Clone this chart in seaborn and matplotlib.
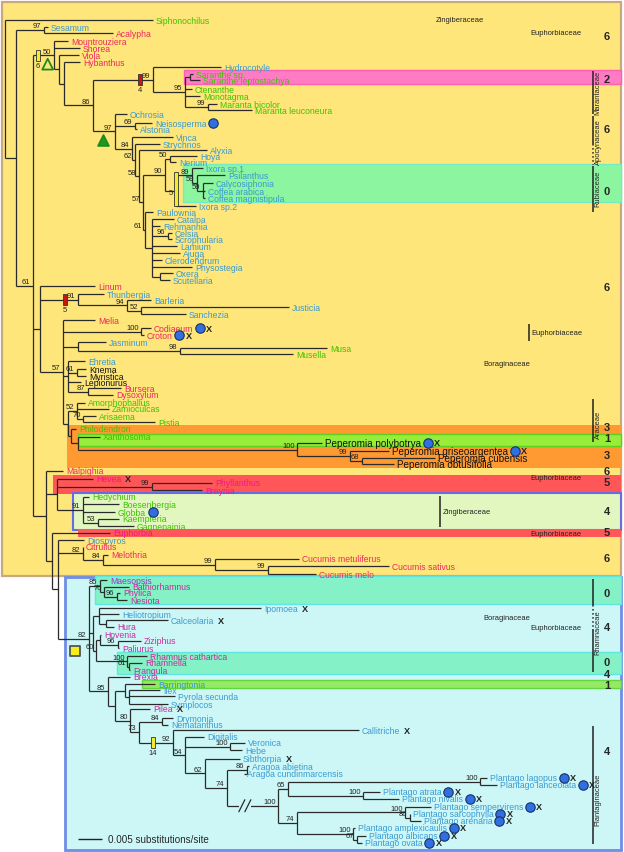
import seaborn as sns
import pandas as pd
import matplotlib.pyplot as plt
from matplotlib.patches import Rectangle

OUTPUT_FILE_NAME = "out.png"

# colours of the taxon names
GRN = "#3cc300"
BLU = "#3a9ad2"
RED = "#ec2862"
MAG = "#c92a9c"
PUR = "#9b34cc"
PNK = "#f01884"
BLK = "#111111"

# ---------------- tips (leaf name, parent node, branch end, row) ----------------
tip_names = [
    "Siphonochilus", "Sesamum", "Acalypha", "Mountrouziera", "Shorea", "Viola", "Hybanthus",
    "Hydrocotyle", "Saranthe sp.", "Saranthe leptostachya", "Ctenanthe", "Monotagma", "Maranta bicolor", "Maranta leuconeura",
    "Ochrosia", "Neisosperma", "Alstonia", "Vinca", "Strychnos", "Alyxia", "Hoya", "Nerium",
    "Ixora sp.1", "Psilanthus", "Calycosiphonia", "Coffea arabica", "Coffea magnistipula", "Ixora sp.2",
    "Paulownia", "Catalpa", "Rehmannia", "Celsia", "Scrophularia", "Lamium", "Ajuga", "Clerodendrum", "Physostegia", "Oxera", "Scutellaria",
    "Linum", "Thunbergia", "Barleria", "Justicia", "Sanchezia", "Melia", "Codiaeum", "Croton",
    "Jasminum", "Musa", "Musella", "Ehretia", "Knema", "Myristica", "Lepionurus", "Bursera", "Dysoxylum",
    "Amorphophallus", "Zamioculcas", "Arisaema", "Pistia", "Philodendron", "Xanthosoma",
    "Peperomia polybotrya", "Peperomia griseoargentea", "Peperomia cubensis", "Peperomia obtusifolia",
    "Malpighia", "Hevea", "Phyllanthus", "Breynia", "Hedychium", "Boesenbergia", "Globba", "Kaempferia", "Gagnepainia", "Euphorbia",
    "Diospyros", "Citrullus", "Melothria", "Cucumis metuliferus", "Cucumis sativus", "Cucumis melo",
    "Maesopsis", "Bathiorhamnus", "Phylica", "Nesiota", "Ipomoea", "Heliotropium", "Calceolaria", "Hura",
    "Hovenia", "Ziziphus", "Paliurus", "Rhamnus cathartica", "Rhamnella", "Frangula", "Brexia",
    "Barringtonia", "Ilex", "Pyrola secunda", "Symplocos", "Pilea", "Drymonia", "Nematanthus", "Callitriche",
    "Digitalis", "Veronica", "Hebe", "Sibthorpia", "Aragoa abietina", "Aragoa cundinmarcensis",
    "Plantago lagopus", "Plantago lanceolata", "Plantago atrata", "Plantago nivalis", "Plantago sempervirens",
    "Plantago sarcophylla", "Plantago arenaria", "Plantago amplexicaulis", "Plantago albicans", "Plantago ovata",
]
tip_parent = [
    "n0", "nSA", "nSA", "n3", "n3", "n4", "n5",
    "n7", "n10", "n10", "n9", "n9", "n11", "n11",
    "n8", "n12", "n12", "n13", "n14", "n15", "n18", "n18",
    "n20", "n21", "n21b", "n21b", "n21b", "n19",
    "n22", "n23", "n23", "n24", "n24", "n23", "n23", "n23", "n23", "n25", "n25",
    "nL1", "nL2", "nL4", "nL5", "nL5", "nL3", "nC", "nC",
    "nJ", "nMu", "nMu", "nE", "n61", "n61", "nE", "n87", "n87",
    "nA1", "nA1", "nA3", "nA3", "nA2", "nA4",
    "nP1", "nP3", "nP4", "nP4",
    "nM", "nM2", "nPh", "nPh", "nZ", "nZ", "nZ", "nZ3", "nZ3", "nE1",
    "nE2", "nCu", "nCu2", "nCu3", "nCu4", "nCu4",
    "nR1", "nR2", "nR3", "nR3", "nI1", "nI1", "nI2", "nI2",
    "nRh1", "nRh2", "nRh2", "nRh3", "nRh4", "nRh4", "nB",
    "nB3", "nB4", "nB4", "nB4", "nB5", "nDN", "nDN", "nPl",
    "nPl2", "nVH", "nVH", "nPl3", "nAr", "nAr",
    "nLa", "nLa", "nAt", "nAt", "nSe",
    "nSa", "nSa", "nAm", "nAl", "nAl",
]
tip_x = [
    153, 48, 113, 68, 80, 79, 80,
    221, 193, 200, 192, 200, 217, 252,
    127, 152, 137, 173, 160, 207, 197, 176,
    203, 225, 213, 205, 205, 196,
    153, 174, 160, 172, 172, 177, 180, 162, 192, 173, 170,
    95, 104, 151, 289, 186, 95, 151, 144,
    106, 327, 293, 85, 86, 86, 81, 121, 113,
    85, 109, 96, 155, 76, 100,
    322, 389, 435, 394,
    63, 93, 212, 202, 89, 119, 115, 119, 134, 110,
    84, 83, 108, 299, 389, 316,
    107, 129, 120, 127, 261, 119, 168, 114,
    101, 141, 119, 147, 142, 130, 130,
    155, 160, 175, 168, 150, 173, 168, 359,
    204, 245, 242, 240, 249, 244,
    487, 497, 380, 399, 431,
    410, 421, 355, 366, 362,
]
tip_y = [
    21, 28, 34, 42, 49, 56, 63,
    68, 75, 81, 90, 97, 105, 111,
    115, 124, 130, 138, 145, 151, 157, 163,
    169, 176, 184, 192, 199, 207,
    213, 220, 227, 234, 240, 247, 254, 261, 268, 274, 281,
    287, 295, 301, 308, 315, 321, 329, 336,
    343, 349, 355, 362, 370, 377, 383, 389, 396,
    404, 410, 417, 423, 430, 438,
    444, 452, 459, 465,
    472, 480, 484, 491, 498, 505, 513, 520, 527, 534,
    541, 548, 556, 560, 567, 575,
    581, 588, 594, 601, 609, 615, 621, 628,
    636, 642, 649, 657, 664, 671, 678,
    685, 691, 697, 705, 710, 719, 726, 731,
    738, 744, 751, 760, 767, 775,
    779, 786, 793, 800, 808,
    815, 822, 829, 837, 844,
]
tip_color = (
    [GRN, BLU, RED, RED, RED, RED, RED]
    + [BLU, GRN, GRN, GRN, GRN, GRN, GRN]
    + [BLU] * 8 + [BLU] * 6 + [BLU] * 11
    + [RED, BLU, BLU, BLU, BLU, RED, RED, RED]
    + [BLU, GRN, GRN, BLU, BLK, BLK, BLK, RED, RED]
    + [GRN] * 6 + [BLK] * 4
    + [RED, PNK, PNK, PNK, GRN, GRN, GRN, GRN, GRN, PNK]
    + [BLU, RED, RED, RED, RED, RED]
    + [PUR, MAG, MAG, MAG, BLU, BLU, BLU, MAG]
    + [MAG] * 7
    + [BLU, BLU, BLU, BLU, MAG, BLU, BLU, BLU]
    + [BLU] * 6 + [BLU] * 10
)
big_tips = ["Peperomia polybotrya", "Peperomia griseoargentea", "Peperomia cubensis", "Peperomia obtusifolia"]
dot_tips = ["Neisosperma", "Codiaeum", "Croton", "Peperomia polybotrya", "Peperomia griseoargentea", "Globba",
            "Plantago lagopus", "Plantago lanceolata", "Plantago atrata", "Plantago nivalis", "Plantago sempervirens",
            "Plantago sarcophylla", "Plantago arenaria", "Plantago amplexicaulis", "Plantago albicans", "Plantago ovata"]
cross_tips = ["Codiaeum", "Croton", "Peperomia polybotrya", "Peperomia griseoargentea", "Hevea", "Ipomoea",
              "Calceolaria", "Pilea", "Callitriche", "Sibthorpia",
              "Plantago lagopus", "Plantago lanceolata", "Plantago atrata", "Plantago nivalis", "Plantago sempervirens",
              "Plantago sarcophylla", "Plantago arenaria", "Plantago amplexicaulis", "Plantago albicans", "Plantago ovata"]

# ---------------- internal nodes (id, parent, depth, bootstrap) ----------------
node_ids = ["n0", "n1", "nSA", "n2", "n3", "n4", "n5", "n6", "n7", "n9", "n10", "n11",
            "n8", "n12", "n13", "n14", "n15", "n16", "n17", "n18", "n19", "n20", "n21", "n21b",
            "n22", "n23", "n24", "n25",
            "nL1", "nL2", "nL4", "nL5", "nL3", "nC", "nJ", "nMu", "nE", "n61", "n87",
            "nA", "nA1", "nA3", "nA2", "nA4", "nP1", "nP3", "nP4",
            "nM", "nM2", "nPh", "nZ", "nZ3", "nE1", "nE2", "nCu", "nCu2", "nCu3", "nCu4",
            "nLow", "nR1", "nR2", "nR3", "nI", "nI1", "nI2", "nRh", "nRh1", "nRh2", "nRh3", "nRh4",
            "nB", "nB2", "nB3", "nB4", "nB5", "nB6", "nDN", "nPl", "nPl2", "nVH", "nPl3", "nPl4",
            "nAr", "nPg", "nPg1", "nLa", "nAt", "nPg2", "nSe", "nSa", "nAm", "nAl"]
node_parent = [None, "n0", "n1", "n1", "n2", "n3", "n4", "n5", "n6", "n7", "n9", "n9",
               "n6", "n8", "n8", "n13", "n14", "n15", "n16", "n17", "n17", "n19", "n20", "n21",
               "n16", "n22", "n23", "n23",
               "n2", "nL1", "nL2", "nL4", "nL1", "nL3", "nL3", "nJ", "nL3", "nE", "nE",
               "nL3", "nA", "nA1", "nA", "nA2", "nA4", "nP1", "nP3",
               "n2", "nM", "nM2", "nM2", "nZ", "nM", "nE1", "nE2", "nCu", "nCu2", "nCu3",
               "nE2", "nLow", "nR1", "nR2", "nLow", "nI", "nI1", "nI", "nRh", "nRh1", "nRh", "nRh3",
               "nLow", "nB", "nB2", "nB3", "nB2", "nB5", "nB6", "nB6", "nPl", "nPl2", "nPl2", "nPl3",
               "nPl4", "nPl4", "nPg", "nPg1", "nPg1", "nPg", "nPg2", "nSe", "nPg2", "nAm"]
node_x = [5, 16, 44, 33, 54, 59, 64, 93, 153, 185, 190, 208,
          115, 135, 132, 135, 139, 143, 165, 170, 176, 192, 197, 203,
          145, 152, 168, 160,
          40, 78, 127, 141, 63, 141, 78, 180, 68, 77, 88,
          68, 77, 83, 71, 78, 297, 350, 362,
          46, 57, 152, 83, 98, 52, 58, 83, 103, 215, 268,
          89, 100, 104, 117, 93, 99, 106, 96, 100, 118, 127, 129,
          108, 115, 125, 129, 130, 139, 162, 173, 185, 230, 205, 227,
          247, 278, 288, 480, 363, 297, 405, 410, 353, 357]
node_support = [None, None, 97, 61, 50, None, None, 86, 99, 95, None, 99,
                97, 69, 84, 62, 58, 57, 90, 50, None, 89, 59, 59,
                61, None, 96, None,
                None, 91, 94, 52, 57, 100, None, 98, None, 61, 87,
                None, 52, 70, None, None, 100, 99, 68,
                None, None, 99, 91, 53, None, None, 82, 84, 99, 99,
                82, 85, 70, 96, None, None, None, 60, None, 96, 100, 61,
                85, None, None, None, 80, 73, 84, 92, 54, 100, 62, 74,
                86, 100, 65, 100, 100, 74, 100, 86, 100, 67]

# character-state counts written down the right margin
count_text = ["6", "2", "6", "0", "6", "3", "1", "3", "6", "5", "4", "5", "6", "0", "4", "0", "4", "1", "4"]
count_row = [37, 80, 130, 192, 288, 428, 439, 456, 472, 483, 512, 533, 559, 594, 628, 663, 675, 686, 752]

# coloured bands behind groups of tips
band_first = ["Saranthe sp.", "Ixora sp.1", "Philodendron", "Xanthosoma", "Hevea", "Hedychium", "Euphorbia",
              "Maesopsis", "Rhamnus cathartica", "Barringtonia"]
band_last = ["Saranthe leptostachya", "Coffea magnistipula", "Peperomia obtusifolia", "Peperomia polybotrya",
             "Breynia", "Gagnepainia", "Euphorbia", "Nesiota", "Frangula", "Barringtonia"]

# family names
fam_names = ["Zingiberaceae", "Euphorbiaceae", "Euphorbiaceae", "Boraginaceae", "Euphorbiaceae",
             "Zingiberaceae", "Euphorbiaceae", "Boraginaceae", "Euphorbiaceae"]
side_fam_names = ["Marantaceae", "Apocynaceae", "Rubiaceae", "Araceae", "Rhamnaceae", "Plantaginaceae"]

SCALE_VALUE = 0.005
PX_PER_SUB = 24 / 0.005

if __name__ == "__main__":
    assert len(tip_names) == len(tip_parent) == len(tip_x) == len(tip_y) == len(tip_color)
    assert len(node_ids) == len(node_parent) == len(node_x) == len(node_support)

    # ---- tree layout ----
    nx = dict(zip(node_ids, node_x))
    kids = {n: [] for n in node_ids}
    for i, p in enumerate(tip_parent):
        kids[p].append(("tip", i))
    for n, p in zip(node_ids, node_parent):
        if p is not None:
            kids[p].append(("node", n))
    ny, span = {}, {}

    def place(n):
        ys = [tip_y[k] if kind == "tip" else place(k) for kind, k in kids[n]]
        span[n] = (min(ys), max(ys))
        ny[n] = (min(ys) + max(ys)) / 2
        return ny[n]

    place("n0")
    tip_row = dict(zip(tip_names, tip_y))

    hDF = pd.DataFrame(
        [(nx[p], x, y) for p, x, y in zip(tip_parent, tip_x, tip_y)]
        + [(nx[p], nx[n], ny[n]) for n, p in zip(node_ids, node_parent) if p is not None],
        columns=["x0", "x1", "y"])
    vDF = pd.DataFrame([(nx[n], span[n][0], span[n][1]) for n in node_ids], columns=["x", "y0", "y1"])

    # ---- figure ----
    sns.set_style("white")
    plt.rcParams["font.family"] = ["Liberation Sans", "DejaVu Sans"]
    fig = plt.figure(figsize=(6.24, 8.53), dpi=100)
    ax = fig.add_axes([0, 0, 1, 1])
    ax.set_xlim(0, 624)
    ax.set_ylim(853, 0)
    ax.axis("off")

    # big background boxes
    ax.add_patch(Rectangle((2, 3), 619, 574, facecolor="#fee67a", edgecolor="#c9a87e", lw=1.6, zorder=0))
    ax.add_patch(Rectangle((65, 578), 556, 273, facecolor="#cdf7f7", edgecolor="#6f8de6", lw=2, zorder=0))

    band_face = ["#ff7cc4", "#8cf5a0", "#ff9a33", "#98ec3a", "#ff5757", "#e2f7c0", "#ff5757",
                 "#84f2c6", "#84f2c6", "#94ea62"]
    band_edge = ["#ff5fb0", "#70ecc8", "none", "#5ccf20", "none", "#6a6ae2", "none",
                 "#5ee6e0", "#5ee6e0", "#62d640"]
    band_left = [184, 183, 67, 78, 53, 73, 78, 95, 117, 142]
    band_pad = [4, 4, 4, 3, 4, 4, 4, 4, 4, 4]
    for f, l, fc, ec, x0, pd_ in zip(band_first, band_last, band_face, band_edge, band_left, band_pad):
        top = tip_row[f] - pd_
        bot = tip_row[l] + pd_
        lw = 1.5 if f == "Hedychium" else 1
        ax.add_patch(Rectangle((x0, top), 621 - x0, bot - top, facecolor=fc, edgecolor=ec, lw=lw, zorder=1))

    # tree branches
    ax.hlines(hDF["y"], hDF["x0"], hDF["x1"], color="#2a2a2a", lw=0.9, zorder=3)
    ax.vlines(vDF["x"], vDF["y0"], vDF["y1"], color="#2a2a2a", lw=0.9, zorder=3)

    # bootstrap values
    for n, s in zip(node_ids, node_support):
        if s is not None:
            ax.text(nx[n] - 2.5, ny[n] - 0.6, str(s), ha="right", va="bottom", fontsize=5.5,
                    color="#222222", zorder=4)

    # tip names
    tip_text = {}
    for name, x, y, c in zip(tip_names, tip_x, tip_y, tip_color):
        fs = 7.1 if name in big_tips else 6.25
        tip_text[name] = ax.text(x + 3, y, name, ha="left", va="center", fontsize=fs, color=c, zorder=4)

    # markers on branches
    par = dict(zip(node_ids, node_parent))
    bar_nodes = ["n3", "n7", "nL2", "nPl"]
    bar_frac = [0.24, 0.78, 0.66, 0.41]
    bar_color = ["#f1ec2c", "#c8170f", "#c8170f", "#f1ec2c"]
    bar_label = ["6", "4", "5", "14"]
    for n, fr, c, lab in zip(bar_nodes, bar_frac, bar_color, bar_label):
        bx = nx[par[n]] + fr * (nx[n] - nx[par[n]])
        ax.add_patch(Rectangle((bx - 1.8, ny[n] - 5.5), 3.6, 11, facecolor=c, edgecolor="#333333", lw=0.6, zorder=5))
        ax.text(bx, ny[n] + 6.5, lab, ha="center", va="top", fontsize=5.5, zorder=5)
    # tall bar over the Rubiaceae node
    y0, y1 = span["n19"]
    ax.add_patch(Rectangle((nx["n19"] - 1.8, y0 - 3), 3.6, y1 - y0 + 3, facecolor="#f1ec2c",
                           edgecolor="#333333", lw=0.6, zorder=5))
    ax.text(nx["n19"] - 3, (y0 + y1) / 2 + 2, "5", ha="right", va="center", fontsize=5.5, zorder=5)

    sym_nodes = ["n3", "n8", "nLow"]
    sym_frac = [0.7, 0.45, 0.55]
    sym_drop = [9, 9, 12]
    sym_marker = ["^", "^", "s"]
    sym_face = ["none", "#1e9a1e", "#f4ee1c"]
    sym_edge = ["#1e8a1e", "#1e8a1e", "#555555"]
    for n, fr, dy, m, fc, ec in zip(sym_nodes, sym_frac, sym_drop, sym_marker, sym_face, sym_edge):
        sx = nx[par[n]] + fr * (nx[n] - nx[par[n]])
        sns.scatterplot(x=[sx], y=[ny[n] + dy], marker=m, s=60, facecolor=fc, edgecolor=ec,
                        linewidth=1.3, ax=ax, zorder=6, legend=False)

    # broken branch mark on the Plantago stem
    bx = nx["nPl4"] + 0.35 * (nx["nPg"] - nx["nPl4"])
    by = ny["nPg"]
    ax.add_patch(Rectangle((bx - 6, by - 2), 12, 4, facecolor="#cdf7f7", edgecolor="none", zorder=4))
    for dx in (-3, 3):
        ax.plot([bx + dx - 3, bx + dx + 3], [by + 6, by - 6], color="#2a2a2a", lw=0.9, zorder=5)

    # dots and crosses after tip names
    fig.canvas.draw()
    rend = fig.canvas.get_renderer()
    inv = ax.transData.inverted()
    dot_x, dot_y = [], []
    for name in tip_names:
        if name not in dot_tips and name not in cross_tips:
            continue
        ext = tip_text[name].get_window_extent(renderer=rend)
        end_x = inv.transform((ext.x1, ext.y0))[0]
        y = tip_row[name]
        nxt = end_x + 7
        if name in dot_tips:
            dot_x.append(end_x + 6.5)
            dot_y.append(y)
            nxt = end_x + 16
        if name in cross_tips:
            ax.text(nxt, y, "X", ha="center", va="center", fontsize=6.6, fontweight="bold", zorder=6)
    sns.scatterplot(x=dot_x, y=dot_y, s=46, color="#2f6fe0", edgecolor="#17306e", linewidth=0.8,
                    ax=ax, zorder=6, legend=False)

    # right-hand counts
    for t, y in zip(count_text, count_row):
        ax.text(607, y, t, ha="center", va="center", fontsize=8, fontweight="bold", zorder=6)

    # family names
    fam_x = [460, 556, 531, 507, 556, 443, 556, 507, 556]
    fam_y = [20, 33, 333, 364, 479, 512, 534, 618, 628]
    fam_ha = ["center", "center", "left", "center", "center", "left", "center", "center", "center"]
    for t, x, y, ha in zip(fam_names, fam_x, fam_y, fam_ha):
        ax.text(x, y, t, ha=ha, va="center", fontsize=5.4, color="#222222", zorder=6)
    ax.vlines([529, 440], [325, 497], [342, 528], color="#222222", lw=1.1, zorder=6)

    side_center = [93, 142, 189, 425, 633, 800]
    for t, y in zip(side_fam_names, side_center):
        ax.text(598, y, t, ha="center", va="center", rotation=90, fontsize=5.4, color="#222222", zorder=6)
    solid = [(72, 115), (117, 145), (167, 213), (400, 443), (580, 606), (630, 673), (727, 845)]
    dotted = [(145, 166), (606, 630)]
    ax.vlines([593] * len(solid), [a for a, b in solid], [b for a, b in solid], color="#222222", lw=1.1, zorder=6)
    ax.vlines([593] * len(dotted), [a for a, b in dotted], [b for a, b in dotted], color="#222222", lw=1.1,
              linestyles=":", zorder=6)

    # scale bar
    ax.hlines(840, 78, 78 + SCALE_VALUE * PX_PER_SUB, color="#222222", lw=1.0, zorder=6)
    ax.text(108, 840, f"{SCALE_VALUE} substitutions/site", ha="left", va="center", fontsize=7.1, zorder=6)

    plt.savefig(OUTPUT_FILE_NAME, dpi=100)
